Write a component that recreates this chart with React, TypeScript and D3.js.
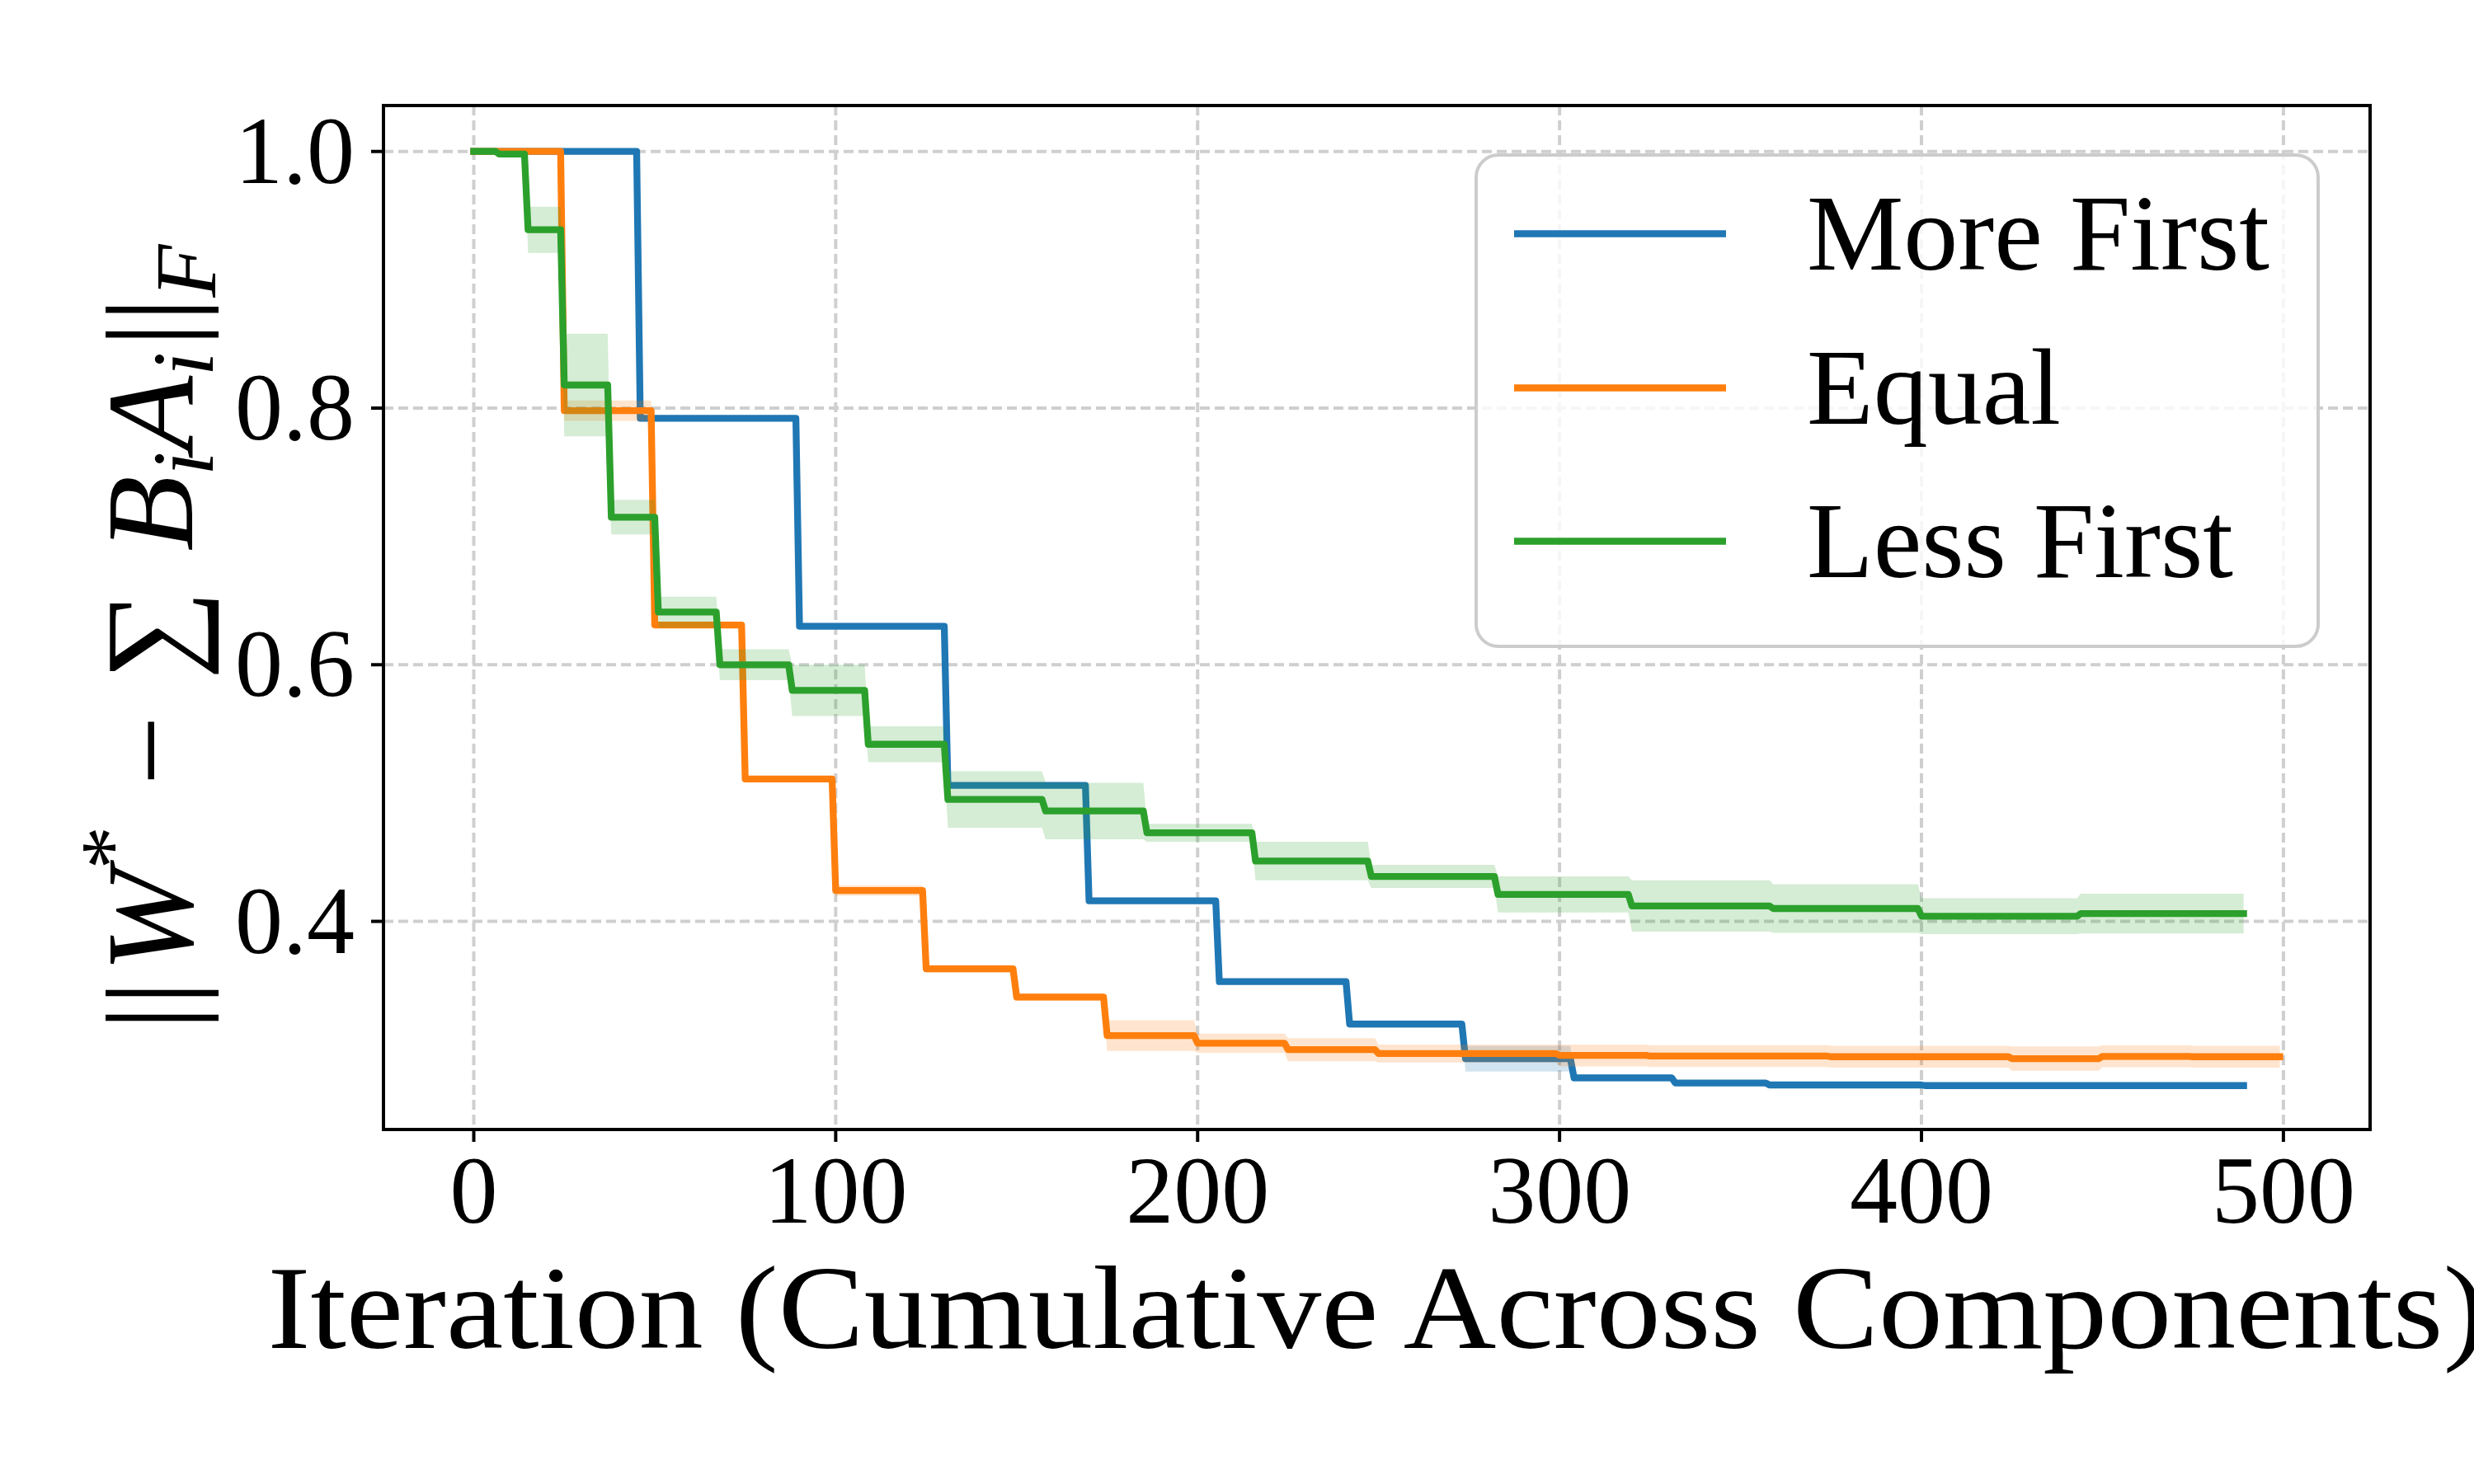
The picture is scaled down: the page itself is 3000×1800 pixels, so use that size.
import React from 'react'
import * as d3 from 'd3'

// step change points: first iteration of each new level
const moreFirstStart = [0, 46, 90, 131, 170, 206, 242, 274, 304, 332, 358, 401]
const moreFirstMean = [1.0, 0.792, 0.63, 0.506, 0.416, 0.353, 0.32, 0.293, 0.278, 0.274, 0.2725, 0.272]
const moreFirstStd = [0, 0.0015, 0.0015, 0.0015, 0.0015, 0.0015, 0.003, 0.01, 0.003, 0.002, 0.0015, 0.0015]
const moreFirstEnd = 489

const equalStart = [0, 25, 50, 75, 100, 125, 150, 175, 200, 225, 250, 300, 325, 375, 425, 450, 475]
const equalMean = [1.0, 0.798, 0.631, 0.511, 0.424, 0.363, 0.341, 0.311, 0.305, 0.3, 0.297, 0.2955, 0.295, 0.2945, 0.293, 0.2948, 0.2945]
const equalStd = [0, 0.008, 0.002, 0.002, 0.004, 0.003, 0.003, 0.012, 0.0075, 0.009, 0.007, 0.0085, 0.0085, 0.0085, 0.0095, 0.0085, 0.0085]
const equalEnd = 499

const lessFirstStart = [0, 7, 15, 25, 38, 51, 68, 88, 109, 131, 158, 186, 216, 248, 283, 320, 359, 400, 444]
const lessFirstMean = [1.0, 0.998, 0.939, 0.818, 0.715, 0.641, 0.6, 0.58, 0.538, 0.495, 0.486, 0.469, 0.447, 0.435, 0.421, 0.412, 0.41, 0.404, 0.406]
const lessFirstStd = [0, 0.002, 0.018, 0.04, 0.0135, 0.012, 0.012, 0.02, 0.014, 0.022, 0.022, 0.007, 0.015, 0.009, 0.014, 0.02, 0.019, 0.014, 0.0155]
const lessFirstEnd = 489

const seriesNames = ['More First', 'Equal', 'Less First']
const seriesColors = ['#1f77b4', '#ff7f0e', '#2ca02c']

const xTicks = [0, 100, 200, 300, 400, 500]
const yTicks = [0.4, 0.6, 0.8, 1.0]

const xLabel = 'Iteration (Cumulative Across Components)'

type Pt = { x: number; m: number; s: number }

const expand = (starts: number[], means: number[], stds: number[], end: number): Pt[] => {
  const pts: Pt[] = []
  starts.forEach((s, k) => {
    const last = k < starts.length - 1 ? starts[k + 1] - 1 : end
    pts.push({ x: s, m: means[k], s: stds[k] })
    pts.push({ x: last, m: means[k], s: stds[k] })
  })
  return pts
}

const series = [
  expand(moreFirstStart, moreFirstMean, moreFirstStd, moreFirstEnd),
  expand(equalStart, equalMean, equalStd, equalEnd),
  expand(lessFirstStart, lessFirstMean, lessFirstStd, lessFirstEnd),
]

const W = 3000
const H = 1800
const margin = { left: 465, right: 126, top: 128, bottom: 430 }
const font = '"Liberation Serif", "DejaVu Serif", serif'

const App = () => {
  const x = d3.scaleLinear().domain([-24.95, 523.95]).range([margin.left, W - margin.right])
  const y = d3.scaleLinear().domain([0.2378, 1.0358]).range([H - margin.bottom, margin.top])

  const line = d3
    .line<Pt>()
    .x((d) => x(d.x))
    .y((d) => y(d.m))
  const area = d3
    .area<Pt>()
    .x((d) => x(d.x))
    .y0((d) => y(d.m - d.s))
    .y1((d) => y(d.m + d.s))

  const left = margin.left
  const right = W - margin.right
  const top = margin.top
  const bottom = H - margin.bottom
  const cx = (left + right) / 2
  const cy = (top + bottom) / 2

  // legend
  const lg = { x: 1790, y: 188, w: 1021, h: 596 }
  const rowY = [283.5, 470.5, 656.5]

  return (
    <svg
      width={W}
      height={H}
      style={{ position: 'absolute', left: 0, top: 0, background: '#fff' }}
      fontFamily={font}
    >
      <rect width={W} height={H} fill="#fff" />
      <defs>
        <clipPath id="plot">
          <rect x={left} y={top} width={right - left} height={bottom - top} />
        </clipPath>
      </defs>

      {/* grid */}
      <g stroke="#cfcfcf" strokeWidth={4} strokeDasharray="12 6">
        {xTicks.map((t) => (
          <line key={'gx' + t} x1={x(t)} x2={x(t)} y1={top} y2={bottom} />
        ))}
        {yTicks.map((t) => (
          <line key={'gy' + t} x1={left} x2={right} y1={y(t)} y2={y(t)} />
        ))}
      </g>

      {/* bands and lines */}
      <g clipPath="url(#plot)">
        {series.map((pts, i) => (
          <g key={seriesNames[i]}>
            <path d={area(pts) ?? ''} fill={seriesColors[i]} fillOpacity={0.2} />
            <path
              d={line(pts) ?? ''}
              fill="none"
              stroke={seriesColors[i]}
              strokeWidth={8.3}
              strokeLinejoin="round"
              strokeLinecap="square"
            />
          </g>
        ))}
      </g>

      {/* spines */}
      <rect x={left} y={top} width={right - left} height={bottom - top} fill="none" stroke="#000" strokeWidth={4} />

      {/* ticks */}
      <g stroke="#000" strokeWidth={4}>
        {xTicks.map((t) => (
          <line key={'tx' + t} x1={x(t)} x2={x(t)} y1={bottom} y2={bottom + 15} />
        ))}
        {yTicks.map((t) => (
          <line key={'ty' + t} x1={left} x2={left - 15} y1={y(t)} y2={y(t)} />
        ))}
      </g>
      <g fontSize={116} fill="#000">
        {xTicks.map((t) => (
          <text key={'lx' + t} x={x(t)} y={1483} textAnchor="middle">
            {t}
          </text>
        ))}
        {yTicks.map((t) => (
          <text key={'ly' + t} x={430} y={y(t) + 38} textAnchor="end">
            {t.toFixed(1)}
          </text>
        ))}
      </g>

      {/* axis labels */}
      <text x={cx} y={1635} fontSize={145} textAnchor="middle" textLength={2690} lengthAdjust="spacingAndGlyphs">
        {xLabel}
      </text>
      <text transform={`translate(233,${cy + 24}) rotate(-90)`} fontSize={150} textAnchor="middle">
        <tspan>||</tspan>
        <tspan fontStyle="italic" dx={10}>W</tspan>
        <tspan fontSize={105} dy={-62}>*</tspan>
        <tspan dy={62} dx={12}>{' \u2212 '}</tspan>
        <tspan fontSize={152} dx={6}>{'\u2211'}</tspan>
        <tspan fontStyle="italic" dx={10}>{' B'}</tspan>
        <tspan fontStyle="italic" fontSize={105} dy={25}>i</tspan>
        <tspan fontStyle="italic" dy={-25}>A</tspan>
        <tspan fontStyle="italic" fontSize={105} dy={25}>i</tspan>
        <tspan dy={-25} dx={6}>||</tspan>
        <tspan fontStyle="italic" fontSize={105} dy={28}>F</tspan>
      </text>

      {/* legend */}
      <rect
        x={lg.x}
        y={lg.y}
        width={lg.w}
        height={lg.h}
        rx={27}
        fill="#fff"
        fillOpacity={0.8}
        stroke="#cccccc"
        strokeWidth={4}
      />
      {seriesNames.map((name, i) => (
        <g key={'lg' + name}>
          <line x1={1836} x2={2093} y1={rowY[i]} y2={rowY[i]} stroke={seriesColors[i]} strokeWidth={8.3} />
          <text x={2191} y={rowY[i] + 43} fontSize={132}>
            {name}
          </text>
        </g>
      ))}
    </svg>
  )
}

export default App
